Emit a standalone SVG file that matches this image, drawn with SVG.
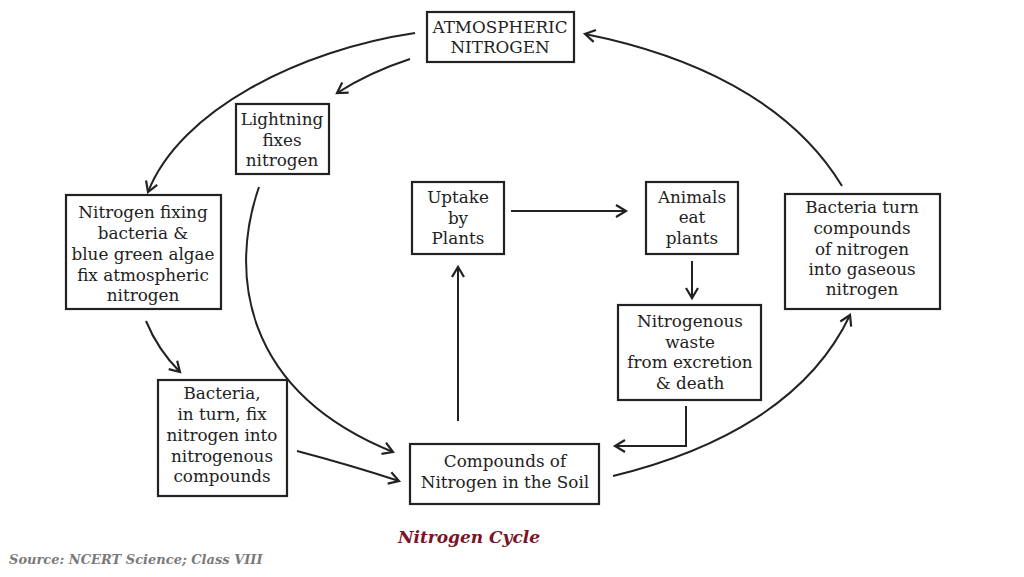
<svg xmlns="http://www.w3.org/2000/svg" width="1024" height="577" viewBox="0 0 1024 577">
<style>
  .box { fill: #ffffff; stroke: #222; stroke-width: 2.2; }
  .lbl { font-family: "DejaVu Serif", "Liberation Serif", serif; font-size: 16.8px; fill: #222; text-anchor: middle; }
  .con { fill: none; stroke: #222; stroke-width: 2; marker-end: url(#arr); }
  .title { font-family: "DejaVu Serif", "Liberation Serif", serif; font-size: 17px; font-weight: bold; font-style: italic; fill: #7a1426; text-anchor: middle; }
  .src { font-family: "DejaVu Serif", "Liberation Serif", serif; font-size: 13px; font-weight: bold; font-style: italic; fill: #7a7a7a; }
</style>
<defs>
  <marker id="arr" markerUnits="userSpaceOnUse" markerWidth="16" markerHeight="16" viewBox="-12 -8 14 16" refX="0" refY="0" orient="auto">
    <path d="M-10,-6 L0,0 L-10,6" fill="none" stroke="#222" stroke-width="2.2"/>
  </marker>
</defs>
<rect width="1024" height="577" fill="#ffffff"/>

<g id="connectors">
  <path class="con" d="M415,33 C300,50 180,110 148,192"/>
  <path class="con" d="M410,59 Q370,72 337,93"/>
  <path class="con" d="M259,187 C230,270 240,390 393,452"/>
  <path class="con" d="M146,321 Q158,350 180,372"/>
  <path class="con" d="M297,451 Q350,465 399,481"/>
  <path class="con" d="M458,421 L458,267"/>
  <path class="con" d="M511,211 L626,211"/>
  <path class="con" d="M692,261 L692,298"/>
  <path class="con" d="M686,406 L686,446 L615,446"/>
  <path class="con" d="M613,476 C720,450 810,400 850,315"/>
  <path class="con" d="M842,186 C790,100 690,55 585,34"/>
</g>

<g id="atmospheric">
  <rect class="box" x="427" y="12" width="147" height="50"/>
  <text class="lbl" x="500" y="33">ATMOSPHERIC</text>
  <text class="lbl" x="500" y="53">NITROGEN</text>
</g>
<g id="lightning">
  <rect class="box" x="236" y="104" width="93" height="70"/>
  <text class="lbl" x="282" y="125">Lightning</text>
  <text class="lbl" x="282" y="146">fixes</text>
  <text class="lbl" x="282" y="166">nitrogen</text>
</g>
<g id="fixing">
  <rect class="box" x="66" y="195" width="155" height="114"/>
  <text class="lbl" x="143" y="218">Nitrogen fixing</text>
  <text class="lbl" x="143" y="239">bacteria &amp;</text>
  <text class="lbl" x="143" y="260">blue green algae</text>
  <text class="lbl" x="143" y="281">fix atmospheric</text>
  <text class="lbl" x="143" y="301">nitrogen</text>
</g>
<g id="bacteria-fix">
  <rect class="box" x="158" y="380" width="129" height="116"/>
  <text class="lbl" x="222" y="399">Bacteria,</text>
  <text class="lbl" x="222" y="420">in turn, fix</text>
  <text class="lbl" x="222" y="441">nitrogen into</text>
  <text class="lbl" x="222" y="462">nitrogenous</text>
  <text class="lbl" x="222" y="482">compounds</text>
</g>
<g id="uptake">
  <rect class="box" x="412" y="182" width="92" height="72"/>
  <text class="lbl" x="458" y="203">Uptake</text>
  <text class="lbl" x="458" y="224">by</text>
  <text class="lbl" x="458" y="244">Plants</text>
</g>
<g id="animals">
  <rect class="box" x="646" y="182" width="92" height="72"/>
  <text class="lbl" x="692" y="203">Animals</text>
  <text class="lbl" x="692" y="223">eat</text>
  <text class="lbl" x="692" y="244">plants</text>
</g>
<g id="waste">
  <rect class="box" x="618" y="305" width="143" height="95"/>
  <text class="lbl" x="690" y="327">Nitrogenous</text>
  <text class="lbl" x="690" y="348">waste</text>
  <text class="lbl" x="690" y="368">from excretion</text>
  <text class="lbl" x="690" y="389">&amp; death</text>
</g>
<g id="bacteria-turn">
  <rect class="box" x="785" y="194" width="155" height="115"/>
  <text class="lbl" x="862" y="213">Bacteria turn</text>
  <text class="lbl" x="862" y="234">compounds</text>
  <text class="lbl" x="862" y="255">of nitrogen</text>
  <text class="lbl" x="862" y="275">into gaseous</text>
  <text class="lbl" x="862" y="295">nitrogen</text>
</g>
<g id="soil">
  <rect class="box" x="410" y="444" width="189" height="60"/>
  <text class="lbl" x="505" y="467">Compounds of</text>
  <text class="lbl" x="505" y="488">Nitrogen in the Soil</text>
</g>

<text class="title" x="469" y="543">Nitrogen Cycle</text>
<text class="src" x="9" y="564">Source: NCERT Science; Class VIII</text>
</svg>
